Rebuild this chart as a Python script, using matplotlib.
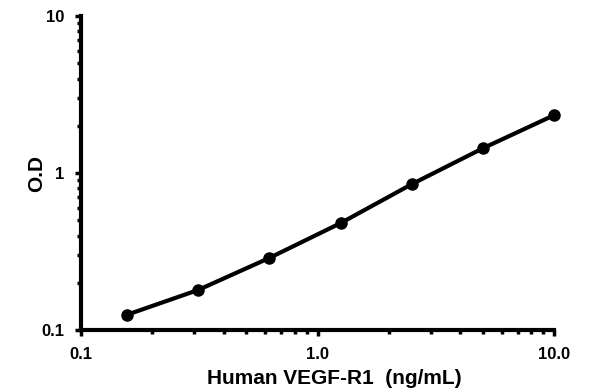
import matplotlib
matplotlib.use("Agg")
import matplotlib.pyplot as plt
from matplotlib.ticker import FixedLocator, LogLocator, NullFormatter

plt.rcParams['font.family'] = ['Liberation Sans', 'DejaVu Sans']
plt.rcParams['font.weight'] = 'bold'

# концентрації стандарту та оптична густина
conc = [0.156, 0.3125, 0.625, 1.25, 2.5, 5.0, 10.0]
od = [0.125, 0.18, 0.288, 0.48, 0.85, 1.44, 2.34]

x_ticks = [0.1, 1.0, 10.0]
x_labels = ["0.1", "1.0", "10.0"]
y_ticks = [0.1, 1, 10]
y_labels = ["0.1", "1", "10"]

fig = plt.figure(figsize=(5.96, 3.92), dpi=100)
ax = fig.add_axes([0.136, 0.158, 0.794, 0.801])

ax.plot(conc, od, color="black", lw=3, marker="o", ms=8, clip_on=False)

ax.set_xscale("log")
ax.set_yscale("log")
ax.set_xlim(0.1, 10)
ax.set_ylim(0.1, 10)

ax.xaxis.set_major_locator(FixedLocator(x_ticks))
ax.set_xticklabels(x_labels)
ax.yaxis.set_major_locator(FixedLocator(y_ticks))
ax.set_yticklabels(y_labels)
ax.xaxis.set_minor_locator(LogLocator(base=10, subs=range(2, 10)))
ax.yaxis.set_minor_locator(LogLocator(base=10, subs=range(2, 10)))
ax.xaxis.set_minor_formatter(NullFormatter())
ax.yaxis.set_minor_formatter(NullFormatter())

for side in ("top", "right"):
    ax.spines[side].set_visible(False)
for side in ("left", "bottom"):
    ax.spines[side].set_linewidth(3)

ax.tick_params(which="major", length=4, width=2.5, labelsize=12)
ax.tick_params(axis="y", which="major", pad=8)
ax.tick_params(axis="x", which="major", pad=8)
ax.tick_params(which="minor", length=3, width=2.5)

ax.set_xlabel("Human VEGF-R1  (ng/mL)", fontsize=15, fontweight="bold", labelpad=5.5)
ax.xaxis.label.set_x(0.535)  # підпис трохи зміщений праворуч, як в оригіналі
ax.set_ylabel("O.D", fontsize=15, fontweight="bold", labelpad=-3.5)

fig.savefig("out.png", dpi=100)
